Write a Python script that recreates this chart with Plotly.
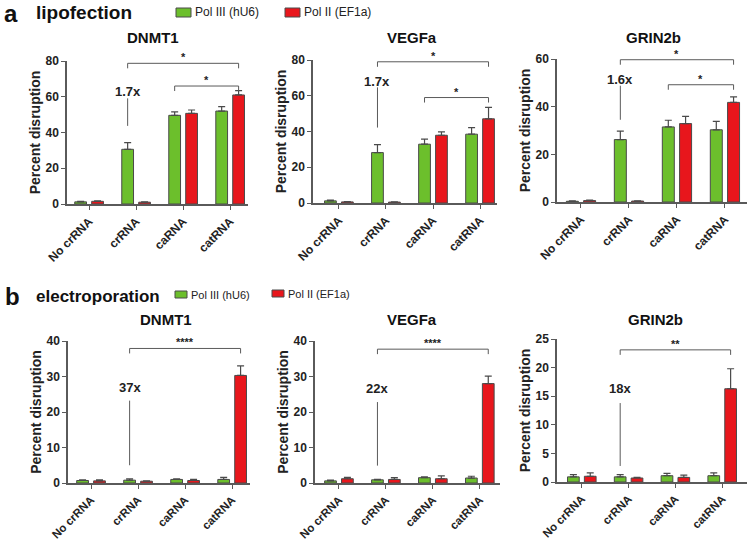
import plotly.graph_objects as go

W, H = 750, 542

categories = ["No crRNA", "crRNA", "caRNA", "catRNA"]
genes = ["DNMT1", "VEGFa", "GRIN2b"]

# ---- panel a: lipofection ----
lipo_green = {"DNMT1": [1.2, 30.6, 49.6, 52.0],
              "VEGFa": [1.2, 28.2, 32.9, 38.5],
              "GRIN2b": [0.3, 26.2, 31.5, 30.3]}
lipo_green_err = {"DNMT1": [0.3, 3.7, 1.9, 2.5],
                  "VEGFa": [0.4, 4.5, 2.8, 3.7],
                  "GRIN2b": [0.2, 3.5, 2.8, 3.5]}
lipo_red = {"DNMT1": [1.5, 1.0, 50.7, 61.0],
            "VEGFa": [0.6, 0.5, 37.9, 47.1],
            "GRIN2b": [0.6, 0.4, 32.9, 41.8]}
lipo_red_err = {"DNMT1": [0.3, 0.2, 1.9, 2.4],
                "VEGFa": [0.2, 0.2, 1.9, 6.4],
                "GRIN2b": [0.2, 0.1, 3.0, 2.3]}
lipo_ymax = {"DNMT1": 80, "VEGFa": 80, "GRIN2b": 60}
lipo_dtick = {"DNMT1": 20, "VEGFa": 20, "GRIN2b": 20}
lipo_fold = {"DNMT1": "1.7x", "VEGFa": "1.7x", "GRIN2b": "1.6x"}
lipo_fold_y = {"DNMT1": 62.9, "VEGFa": 67.9, "GRIN2b": 51.3}
lipo_fold_line = {"DNMT1": (59.1, 43.7), "VEGFa": (64.7, 42.2), "GRIN2b": (48.8, 34.5)}
lipo_br1 = {"DNMT1": 78.7, "VEGFa": 79.0, "GRIN2b": 59.7}
lipo_br2 = {"DNMT1": 66.0, "VEGFa": 59.0, "GRIN2b": 49.2}

# ---- panel b: electroporation ----
elec_green = {"DNMT1": [0.7, 0.8, 1.0, 1.0],
              "VEGFa": [0.6, 0.9, 1.5, 1.4],
              "GRIN2b": [0.9, 0.9, 1.1, 1.1]}
elec_green_err = {"DNMT1": [0.2, 0.4, 0.2, 0.6],
                  "VEGFa": [0.2, 0.1, 0.2, 0.5],
                  "GRIN2b": [0.4, 0.4, 0.4, 0.5]}
elec_red = {"DNMT1": [0.6, 0.5, 0.7, 30.3],
            "VEGFa": [1.2, 1.0, 1.2, 28.0],
            "GRIN2b": [1.0, 0.7, 0.8, 16.3]}
elec_red_err = {"DNMT1": [0.3, 0.1, 0.3, 2.7],
                "VEGFa": [0.4, 0.5, 0.8, 2.1],
                "GRIN2b": [0.6, 0.1, 0.4, 3.5]}
elec_ymax = {"DNMT1": 40, "VEGFa": 40, "GRIN2b": 25}
elec_dtick = {"DNMT1": 10, "VEGFa": 10, "GRIN2b": 5}
elec_fold = {"DNMT1": "37x", "VEGFa": "22x", "GRIN2b": "18x"}
elec_fold_y = {"DNMT1": 26.8, "VEGFa": 26.5, "GRIN2b": 16.3}
elec_fold_line = {"DNMT1": (23.2, 5.0), "VEGFa": (22.8, 4.9), "GRIN2b": (13.8, 2.8)}
elec_br = {"DNMT1": 37.9, "VEGFa": 37.7, "GRIN2b": 23.1}
elec_sig = {"DNMT1": "****", "VEGFa": "****", "GRIN2b": "**"}

GREEN = "#6cbf2c"
RED = "#e8161c"
EDGE = "#4a4a4a"
AX = "#5a5a5a"
FONT = "Liberation Sans, Arial, sans-serif"
NARROW = "Liberation Sans Narrow, Arial Narrow, Liberation Sans, sans-serif"
OFF = 0.18
BW = 0.25

# pixel layout of each subplot: (x_left, x_right, y_top, y_bottom, xmin, xmax)
layout_px = [
    (67, 248, 61, 204, -0.47, 3.38),
    (313, 497, 60, 203, -0.55, 3.36),
    (557, 747, 59, 202, -0.50, 3.46),
    (68, 250, 341, 483, -0.49, 3.38),
    (315, 500, 341, 483, -0.51, 3.43),
    (557, 747, 339, 482, -0.53, 3.53),
]
title_px = [(153, 38), (412, 38), (653, 38), (166, 319), (412, 319), (655, 319)]


def px_x(p):
    return p / W


def px_y(p):
    return 1 - p / H


fig = go.Figure()
shapes = []
annotations = []
idx = list(range(len(categories)))

panels = []
for g in genes:
    panels.append(("a", g))
for g in genes:
    panels.append(("b", g))

for k, (panel, g) in enumerate(panels):
    n = k + 1
    xa = "x" if n == 1 else f"x{n}"
    ya = "y" if n == 1 else f"y{n}"
    if panel == "a":
        gv, ge, rv, re = lipo_green[g], lipo_green_err[g], lipo_red[g], lipo_red_err[g]
        ymax, dt = lipo_ymax[g], lipo_dtick[g]
        tfs = 12
    else:
        gv, ge, rv, re = elec_green[g], elec_green_err[g], elec_red[g], elec_red_err[g]
        ymax, dt = elec_ymax[g], elec_dtick[g]
        tfs = 11.5

    for vals, errs, col, name, sign in [(gv, ge, GREEN, "Pol III (hU6)", -1),
                                         (rv, re, RED, "Pol II (EF1a)", 1)]:
        fig.add_trace(go.Bar(
            x=[i + sign * OFF for i in idx], y=vals, width=BW,
            marker=dict(color=col, line=dict(color=EDGE, width=1)),
            error_y=dict(type="data", array=errs, arrayminus=[0] * len(errs),
                         symmetric=False, color=EDGE, thickness=1.2, width=3.5),
            name=name, showlegend=False, xaxis=xa, yaxis=ya))

    xl, xr, yt, yb, xmin, xmax = layout_px[k]
    axx = dict(domain=[px_x(xl), px_x(xr)], range=[xmin, xmax], anchor=ya,
               automargin=False,
               tickmode="array", tickvals=idx, ticktext=categories,
               tickangle=-45, ticks="outside", ticklen=4, tickcolor=AX,
               showline=True, linecolor=AX, linewidth=1.5, showgrid=False,
               zeroline=False,
               tickfont=dict(family=FONT, size=tfs, color="#222", weight="bold"))
    axy = dict(domain=[px_y(yb), px_y(yt)], range=[0, ymax], anchor=xa,
               automargin=False,
               tick0=0, dtick=dt, ticks="outside", ticklen=4, tickcolor=AX,
               showline=True, linecolor=AX, linewidth=1.5, showgrid=False,
               zeroline=False,
               tickfont=dict(family=FONT, size=12, color="#222", weight="bold"),
               title=dict(text="Percent disruption", standoff=2,
                          font=dict(family=FONT, size=14, color="#222", weight="bold")))
    fig.update_layout(**{("xaxis" if n == 1 else f"xaxis{n}"): axx,
                         ("yaxis" if n == 1 else f"yaxis{n}"): axy})

    # subplot title
    tx, ty = title_px[k]
    annotations.append(dict(x=px_x(tx), y=px_y(ty), xref="paper", yref="paper",
                            text=g, showarrow=False, xanchor="center", yanchor="middle",
                            font=dict(family=FONT, size=15, color="#111", weight="bold")))

    # fold-change label & line at crRNA green bar
    xg = 1 - OFF
    if panel == "a":
        fold, fy, (l1, l2) = lipo_fold[g], lipo_fold_y[g], lipo_fold_line[g]
    else:
        fold, fy, (l1, l2) = elec_fold[g], elec_fold_y[g], elec_fold_line[g]
    annotations.append(dict(x=xg, y=fy, xref=xa, yref=ya, text=fold, showarrow=False,
                            xanchor="center", yanchor="middle",
                            font=dict(family=NARROW, size=13, color="#222", weight="bold")))
    shapes.append(dict(type="line", xref=xa, yref=ya, x0=xg, x1=xg, y0=l1, y1=l2,
                       line=dict(color=AX, width=1)))

    # significance brackets
    xr_end = 3 + OFF
    if panel == "a":
        brs = [(1 - OFF, lipo_br1[g], "*"), (2 - OFF, lipo_br2[g], "*")]
    else:
        brs = [(1 - OFF, elec_br[g], elec_sig[g])]
    drop = ymax * 0.035
    for x0, hy, sig in brs:
        shapes.append(dict(type="path", xref=xa, yref=ya,
                           path=f"M {x0},{hy - drop} L {x0},{hy} L {xr_end},{hy} L {xr_end},{hy - drop}",
                           line=dict(color=AX, width=1)))
        annotations.append(dict(x=(x0 + xr_end) / 2, y=hy, xref=xa, yref=ya, text=sig,
                                showarrow=False, xanchor="center", yanchor="bottom",
                                yshift=-2,
                                font=dict(family=FONT, size=11, color="#222", weight="bold")))

# panel letters and headings
annotations += [
    dict(x=px_x(2), y=px_y(13), xref="paper", yref="paper", text="a", showarrow=False,
         xanchor="left", yanchor="middle", font=dict(family=FONT, size=24, color="#111", weight="bold")),
    dict(x=px_x(34), y=px_y(12), xref="paper", yref="paper", text="lipofection", showarrow=False,
         xanchor="left", yanchor="middle", font=dict(family=FONT, size=19, color="#111", weight="bold")),
    dict(x=px_x(3), y=px_y(296), xref="paper", yref="paper", text="b", showarrow=False,
         xanchor="left", yanchor="middle", font=dict(family=FONT, size=24, color="#111", weight="bold")),
    dict(x=px_x(34), y=px_y(296), xref="paper", yref="paper", text="electroporation", showarrow=False,
         xanchor="left", yanchor="middle", font=dict(family=FONT, size=17, color="#111", weight="bold")),
]

# legends (drawn)
legend_items = [
    (176, 191, 8, 17, GREEN, "Pol III (hU6)", 12, FONT),
    (285, 300, 8, 17, RED, "Pol II (EF1a)", 12, FONT),
    (175, 187, 291, 298, GREEN, "Pol III (hU6)", 11, NARROW),
    (272, 284, 290, 297, RED, "Pol II (EF1a)", 11, NARROW),
]
for x0, x1, y0, y1, col, txt, fs, fam in legend_items:
    shapes.append(dict(type="rect", xref="paper", yref="paper",
                       x0=px_x(x0), x1=px_x(x1), y0=px_y(y1), y1=px_y(y0),
                       fillcolor=col, line=dict(color=EDGE, width=1)))
    annotations.append(dict(x=px_x(x1 + 2), y=px_y((y0 + y1) / 2), xref="paper", yref="paper",
                            text=txt, showarrow=False, xanchor="left", yanchor="middle",
                            font=dict(family=fam, size=fs, color="#222")))

fig.update_layout(width=W, height=H, margin=dict(l=0, r=0, t=0, b=0, autoexpand=False),
                  paper_bgcolor="white", plot_bgcolor="white",
                  barmode="overlay", showlegend=False,
                  shapes=shapes, annotations=annotations)

fig.write_html("out.html", config={"displayModeBar": False},
               post_script="document.body.style.margin='0';document.body.style.overflow='hidden';")
